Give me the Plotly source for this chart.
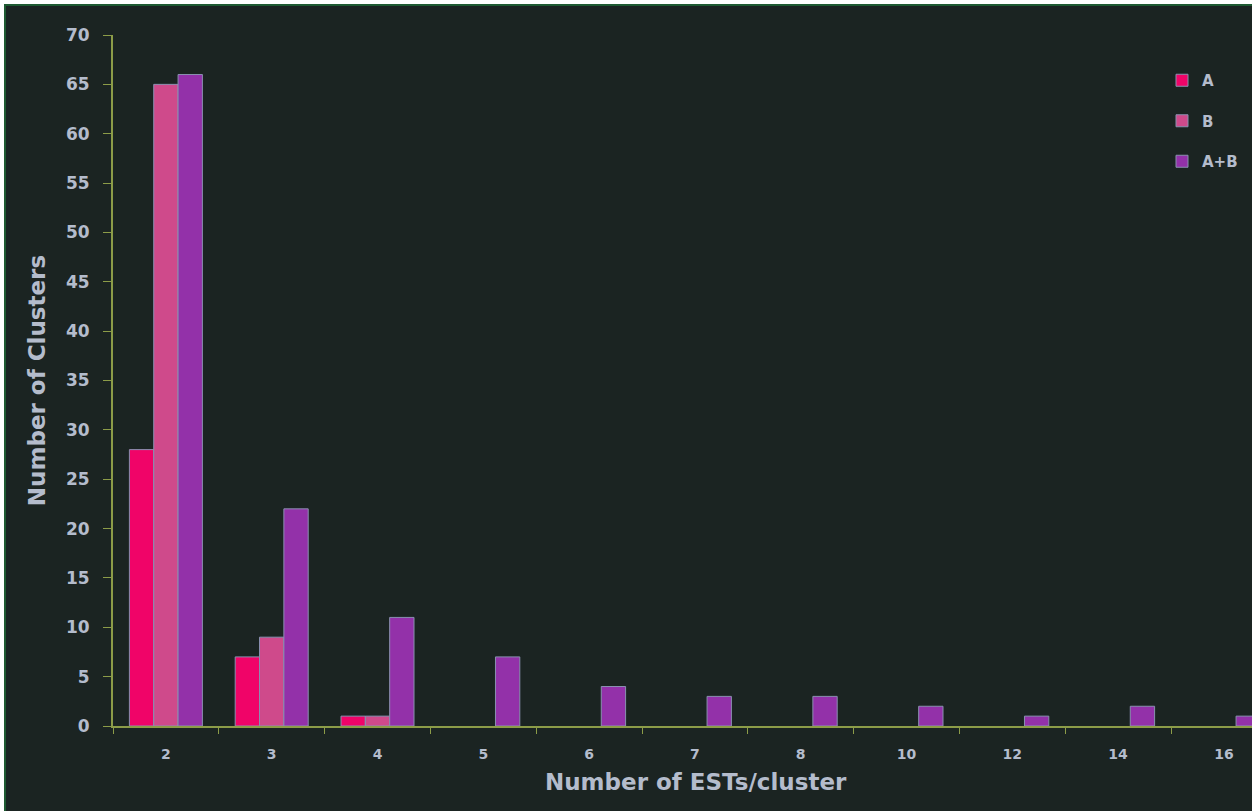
import plotly.graph_objects as go

categories = ["2", "3", "4", "5", "6", "7", "8", "10", "12", "14", "16"]
series_names = ["A", "B", "A+B"]
values_a = [28, 7, 1, 0, 0, 0, 0, 0, 0, 0, 0]
values_b = [65, 9, 1, 0, 0, 0, 0, 0, 0, 0, 0]
values_ab = [66, 22, 11, 7, 4, 3, 3, 2, 1, 2, 1]
y_ticks = list(range(0, 71, 5))

colors = ["#f00468", "#cf4a8b", "#9331a9"]
bg = "#1b2422"
text_col = "#b4bccc"
axis_col = "#8c9c48"

W, H = 1252, 811
ml, mt, mb, mr = 113, 35, 85, 0
pw = W - ml - mr
ph = H - mt - mb

fig = go.Figure()
for i, (name, vals) in enumerate(zip(series_names, [values_a, values_b, values_ab])):
    fig.add_trace(go.Bar(
        x=categories, y=vals, name=name,
        marker=dict(color=colors[i],
                    line=dict(color="#8a90b0", width=[1 if v > 0 else 0 for v in vals])),
        legendgroup=name,
    ))

def px_to_paper_x(px):
    return (px - ml) / pw

def px_to_paper_y(py):
    return (H - mb - py) / ph

fig.add_shape(type="rect", xref="paper", yref="paper",
              x0=px_to_paper_x(5), x1=px_to_paper_x(W + 20),
              y0=px_to_paper_y(H + 20), y1=px_to_paper_y(5),
              fillcolor=bg, line=dict(color="#1e5a32", width=2), layer="below")

tick_font = dict(size=17, color=text_col, family="DejaVu Sans", weight="bold")
title_font = dict(size=23, color=text_col, family="DejaVu Sans", weight="bold")

fig.add_annotation(text="Number of ESTs/cluster", xref="paper", yref="paper",
                   x=px_to_paper_x(696), y=px_to_paper_y(782),
                   xanchor="center", yanchor="middle", showarrow=False,
                   font=title_font)

fig.update_layout(
    width=W, height=H,
    margin=dict(l=ml, r=mr, t=mt, b=mb, pad=0),
    paper_bgcolor="white",
    plot_bgcolor="rgba(0,0,0,0)",
    barmode="group",
    bargap=0.31,
    bargroupgap=0,
    font=dict(family="DejaVu Sans", color=text_col, size=15),
    showlegend=True,
    legend=dict(x=px_to_paper_x(1162), y=px_to_paper_y(64), xanchor="left", yanchor="top",
                bgcolor="rgba(0,0,0,0)", font=dict(size=15, color=text_col, family="DejaVu Sans", weight="bold"),
                traceorder="grouped", tracegroupgap=18, itemwidth=30),
    xaxis=dict(
        type="category",
        range=[-0.5, -0.5 + pw / 105.8],
        tickson="boundaries",
        ticks="outside", ticklen=6, tickcolor=axis_col,
        ticklabelstandoff=14,
        showline=True, linecolor=axis_col, linewidth=2,
        showgrid=False, zeroline=False,
        tickfont=dict(size=14, color=text_col, family="DejaVu Sans", weight="bold"),
    ),
    yaxis=dict(
        range=[0, 70],
        tickvals=y_ticks,
        ticks="outside", ticklen=8, tickcolor=axis_col,
        ticklabelstandoff=10,
        showline=True, linecolor=axis_col, linewidth=2,
        showgrid=False, zeroline=False,
        tickfont=tick_font,
        title=dict(text="Number of Clusters", font=title_font, standoff=14),
    ),
)

fig.write_html("out.html")
